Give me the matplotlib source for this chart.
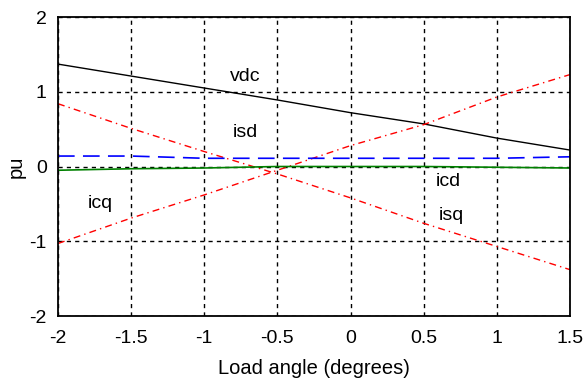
import matplotlib
matplotlib.use("Agg")
import matplotlib.pyplot as plt

plt.rcParams['font.family'] = ['Liberation Sans', 'DejaVu Sans']
plt.rcParams['axes.unicode_minus'] = False

angle = [-2.0, -1.5, -1.0, -0.5, 0.0, 0.5, 1.0, 1.5]
vdc = [1.37, 1.21, 1.05, 0.89, 0.72, 0.57, 0.38, 0.22]
isd = [0.84, 0.51, 0.20, -0.10, -0.42, -0.76, -1.07, -1.38]
icq = [-1.03, -0.69, -0.38, -0.05, 0.28, 0.56, 0.93, 1.23]
icd = [0.14, 0.14, 0.11, 0.11, 0.11, 0.11, 0.11, 0.13]
isq = [-0.05, -0.03, -0.02, 0.0, 0.0, 0.0, -0.01, -0.02]

labels = [("vdc", -0.72, 1.2), ("isd", -0.72, 0.45), ("icq", -1.71, -0.49),
          ("icd", 0.67, -0.2), ("isq", 0.69, -0.65)]

fig = plt.figure(figsize=(5.85, 3.78), dpi=100)
ax = fig.add_axes([0.0991, 0.164, 0.8753, 0.791])

ax.plot(angle, vdc, color='black', lw=1.0)
ax.plot(angle, isd, color='red', lw=1.0, linestyle=(0, (5, 3, 1, 3)))
ax.plot(angle, icq, color='red', lw=1.0, linestyle=(0, (5, 3, 1, 3)))
ax.plot(angle, icd, color='blue', lw=1.2, linestyle=(0, (10, 5)))
ax.plot(angle, isq, color='green', lw=1.2)

for t, x, y in labels:
    ax.text(x, y, t, ha='center', va='center', fontsize=14)

ax.set_xlim(-2, 1.5)
ax.set_ylim(-2, 2)
ax.set_xticks([-2, -1.5, -1, -0.5, 0, 0.5, 1, 1.5])
ax.set_xticklabels(['-2', '-1.5', '-1', '-0.5', '0', '0.5', '1', '1.5'])
ax.set_yticks([-2, -1, 0, 1, 2])
ax.grid(True, color='black', linestyle=(0, (3, 3)), lw=1.0)
ax.tick_params(labelsize=14, direction='in', length=0)
ax.tick_params(axis='x', pad=10)
ax.tick_params(axis='y', pad=8)
for s in ax.spines.values():
    s.set_linewidth(1.3)
ax.set_xlabel('Load angle (degrees)', fontsize=14.5, labelpad=9)
ax.set_ylabel('pu', fontsize=14.5, labelpad=3)

fig.savefig('out.png', dpi=100)
